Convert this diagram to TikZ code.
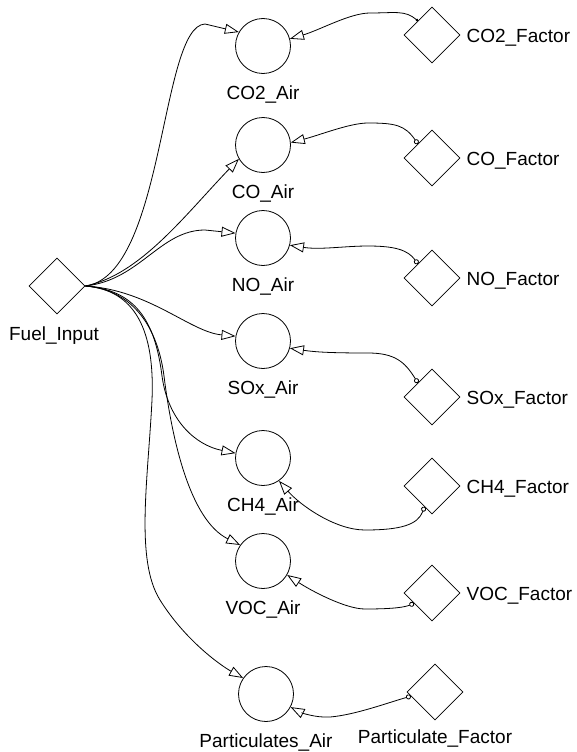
\documentclass[tikz,border=0pt]{standalone}
\usepackage{fontspec}
\setmainfont{Liberation Sans}
\usetikzlibrary{shapes,arrows.meta,positioning}

\begin{document}
\begin{tikzpicture}[x=1pt, y=-1pt,
    var/.style={circle, draw, minimum size=55pt, inner sep=0pt, line width=0.8pt},
    par/.style={diamond, draw, minimum size=56pt, inner sep=0pt, line width=0.8pt},
    lbl/.style={inner sep=0pt, font=\fontsize{19}{22}\selectfont},
    link/.style={line width=0.8pt, -{Triangle[open, length=14pt, width=10pt]}},
    flink/.style={line width=0.8pt, {Circle[open, length=5pt]}-{Triangle[open, length=14pt, width=10pt]}}
]

\useasboundingbox (0,0) rectangle (576,752);

% fuel input
\node[par] (fuel) at (57,286) {};
\node[lbl, below=12pt of fuel, xshift=-3pt] (fuel-l) {Fuel\_Input};

% emissions to air
\foreach \n/\t/\y in {co2/CO2/46, co/CO/145, no/NO/238, sox/SOx/341, ch4/CH4/458, voc/VOC/561} {
    \node[var] (\n-air) at (263,\y) {};
    \node[lbl, below=12pt of \n-air] (\n-air-l) {\t\_Air};
}
\node[var] (pm-air) at (266,694) {};
\node[lbl, below=12pt of pm-air] (pm-air-l) {Particulates\_Air};

% emission factors
\foreach \n/\t/\y in {co2/CO2/35, co/CO/158, no/NO/278, sox/SOx/397, ch4/CH4/486, voc/VOC/593} {
    \node[par] (\n-fac) at (432,\y) {};
    \node[lbl, right=6pt of \n-fac, yshift=-3pt] (\n-fac-l) {\t\_Factor};
}
\node[par] (pm-fac) at (435,692) {};
\node[lbl, below=9pt of pm-fac] (pm-fac-l) {Particulate\_Factor};

% fuel -> emissions
\draw[link] (fuel.east) .. controls (165,275) and (160,26) .. (205,24) -- (co2-air.150);
\draw[link] (fuel.east) .. controls (140,275) and (185,215) .. (co-air.210);
\draw[link] (fuel.east) .. controls (140,280) and (160,230) .. (205,230) -- (no-air.170);
\draw[link] (fuel.east) .. controls (150,290) and (190,332) .. (sox-air.170);
\draw[link] (fuel.east) .. controls (135,290) and (155,320) .. (162,376)
    .. controls (168,420) and (195,445) .. (ch4-air.170);
\draw[link] (fuel.east) .. controls (135,290) and (158,330) .. (164,376)
    .. controls (172,440) and (190,520) .. (voc-air.145);
\draw[link] (fuel.east) .. controls (135,290) and (155,330) .. (152,400)
    .. controls (148,480) and (135,560) .. (160,600)
    .. controls (185,640) and (220,665) .. (pm-air.145);

% factors -> emissions
\draw[line width=0.8pt, {Circle[length=2.5pt]}-{Triangle[open, length=14pt, width=10pt]}]
    (co2-fac.135) .. controls (405,10) and (395,13) .. (370,13)
    .. controls (350,13) and (320,30) .. (co2-air.15);
\draw[flink] (co-fac.135) .. controls (405,125) and (395,123) .. (368,123)
    .. controls (350,123) and (320,135) .. (co-air.5);
\draw[flink] (no-fac.135) .. controls (408,250) and (395,246) .. (368,246)
    .. controls (345,246) and (320,250) .. (no-air.-15);
\draw[flink] (sox-fac.135) .. controls (405,362) and (395,353) .. (368,353)
    .. controls (330,353) and (315,352) .. (sox-air.-15);
\draw[flink] (ch4-fac.250) .. controls (418,525) and (400,530) .. (365,530)
    .. controls (335,530) and (300,505) .. (ch4-air.-55);
\draw[flink] (voc-fac.210) .. controls (405,607) and (395,609) .. (365,609)
    .. controls (345,609) and (310,590) .. (voc-air.-30);
\draw[flink] (pm-fac.190) .. controls (390,702) and (355,715) .. (330,717)
    .. controls (315,718) and (300,712) .. (pm-air.-28);

\end{tikzpicture}
\end{document}
